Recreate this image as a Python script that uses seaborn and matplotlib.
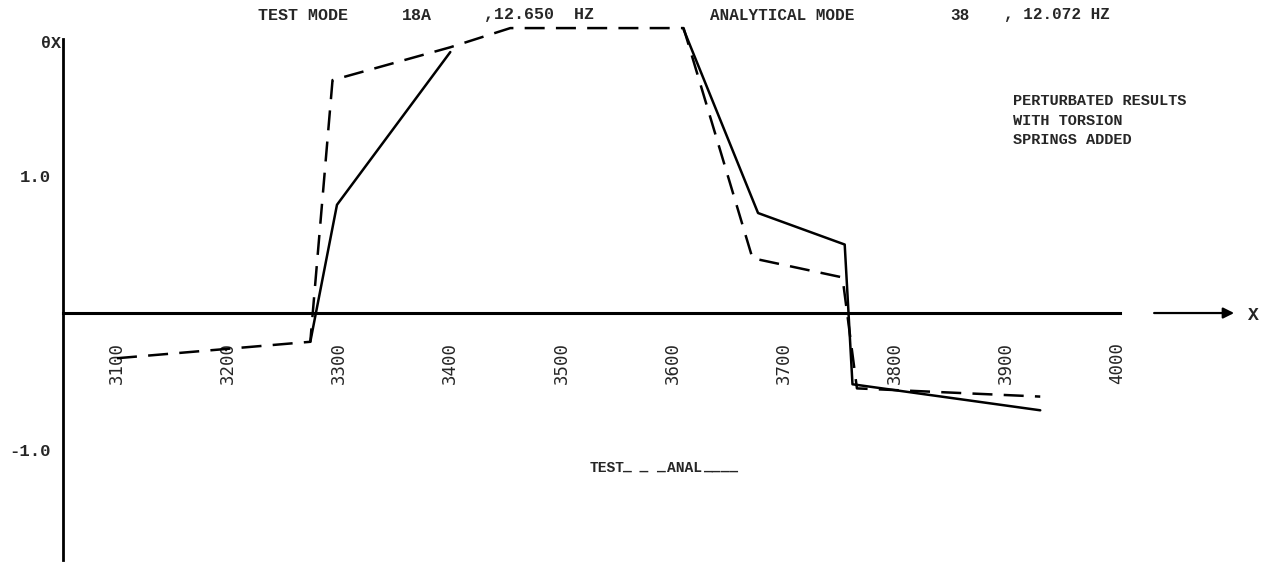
import numpy as np
import pandas as pd
import matplotlib
matplotlib.use("Agg")
import matplotlib.pyplot as plt
import seaborn as sns

# Rotation theta-x along the station line: test mode (dashed) and analytical mode (solid)
test_station = [3100, 3274, 3294, 3400, 3454, 3610, 3672, 3753, 3766, 3931]
test_theta = [-0.33, -0.21, 1.70, 1.94, 2.08, 2.08, 0.40, 0.26, -0.55, -0.61]

# the analytical curve leaves the plotting field between 3400 and 3610 (gap = nan)
anal_station = [3274, 3298, 3400, 3500, 3610, 3677, 3755, 3762, 3931]
anal_theta = [-0.21, 0.79, 1.905, np.nan, 2.07, 0.73, 0.50, -0.52, -0.71]

x_ticks = [3100, 3200, 3300, 3400, 3500, 3600, 3700, 3800, 3900, 4000]
x_tick_labels = ["3100", "3200", "3300", "3400", "3500", "3600", "3700", "3800", "3900", "4000"]
y_ticks = [1.0, -1.0]
y_tick_labels = ["1.0", "-1.0"]

W, H = 1273, 564
sns.set_style("white")
plt.rcParams["font.family"] = ["Liberation Mono", "DejaVu Sans Mono", "DejaVu Sans"]

fig = plt.figure(figsize=(W / 100, H / 100), dpi=100)
ax = fig.add_axes([0, 0, 1, 1])
ax.set_xlim(2994.7, 4140.5)
ax.set_ylim(-1.832, 2.285)

test_df = pd.DataFrame({"station": test_station, "theta": test_theta})
anal_df = pd.DataFrame({"station": anal_station, "theta": anal_theta})

sns.lineplot(data=test_df, x="station", y="theta", estimator=None, sort=False,
             color="black", lw=1.8, ax=ax, legend=False, dashes=False)
ax.lines[-1].set_dashes((8, 4.5))

# draw the analytical curve piece by piece so the gap stays open
pieces = np.split(anal_df, np.where(anal_df["theta"].isna())[0])
for piece in pieces:
    piece = piece.dropna()
    if len(piece) > 1:
        sns.lineplot(data=piece, x="station", y="theta", estimator=None, sort=False,
                     color="black", lw=1.8, ax=ax, legend=False)

# axes drawn through the origin like a typewriter plot
x_origin = 3051.4
for side in ["top", "right"]:
    ax.spines[side].set_visible(False)
ax.spines["left"].set_position(("data", x_origin))
ax.spines["left"].set_bounds(-1.80, 2.00)
ax.spines["left"].set_linewidth(2.0)
ax.spines["bottom"].set_position(("data", 0))
ax.spines["bottom"].set_bounds(x_origin, 4003)
ax.spines["bottom"].set_linewidth(2.2)
for s in ["left", "bottom"]:
    ax.spines[s].set_color("black")

ax.set_xticks(x_ticks)
ax.set_xticklabels(x_tick_labels, rotation=90, fontsize=12.5,
                   family=["DejaVu Sans Mono"])
ax.set_yticks(y_ticks)
ax.set_yticklabels(y_tick_labels, fontsize=12.5, fontweight="bold")
ax.tick_params(axis="x", length=0, pad=21)
ax.tick_params(axis="y", length=0, pad=9)
ax.set_xlabel("")
ax.set_ylabel("")

ax.annotate("", xy=(4108, 0), xytext=(4031, 0),
            arrowprops=dict(arrowstyle="-|>", color="black", lw=1.6, mutation_scale=16))
ax.text(4118, -0.02, "X", fontsize=13, fontweight="bold", ha="left", va="center")


def put(x, y, s, size=12, **kw):
    fig.text(x / W, 1 - y / H, s, fontsize=size, fontweight="bold",
             ha="left", va="center", **kw)


put(41, 44, "θX", size=12)
put(258, 15, "TEST MODE")
put(402, 15, "18A")
put(484, 15, ",12.650  HZ")
put(710, 15, "ANALYTICAL MODE", size=11.5)
put(950, 15, "38", size=11.5)
put(1004, 15, ", 12.072 HZ", size=11.5)
put(1013, 101, "PERTURBATED RESULTS", size=11)
put(1013, 121, "WITH TORSION", size=11)
put(1013, 140, "SPRINGS ADDED", size=11)
put(590, 468, "TEST", size=10.5)
put(622, 466, "_ _ _", size=10.5)
put(667, 468, "ANAL", size=10.5)
put(703, 466, "____", size=10.5)

fig.savefig("out.png", dpi=100)
